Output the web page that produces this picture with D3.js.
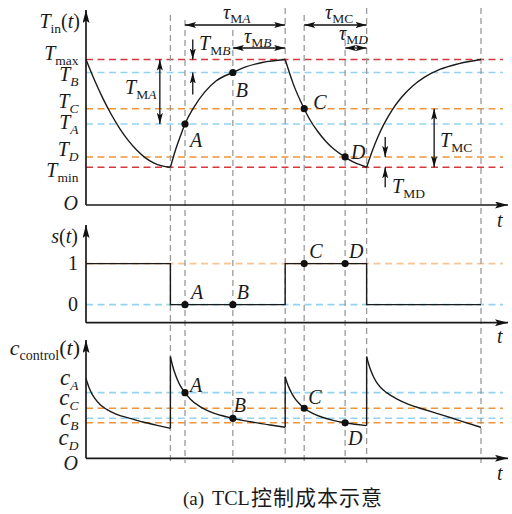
<!DOCTYPE html>
<html>
<head>
<meta charset="UTF-8">
<script src="https://d3js.org/d3.v7.min.js"></script>
<style>
  body { margin: 0; background: #fff; }
  text { font-family: "Liberation Serif", "Times New Roman", serif; fill: #1a1a1a; }
</style>
</head>
<body>
<div id="chart"></div>
<script>
    // ---- data (time in arbitrary units 0..100) ----
    const guideTimes = [20, 23.46, 34.8, 47.2, 51.7, 61.4, 66.5, 93.6];
    const switchTimes = [0, 20, 47.2, 66.5, 93.6];
    const switchState = [1, 0, 1, 0, 0];

    const pointNames = ["A", "B", "C", "D"];
    const pointTimes = [23.46, 34.8, 51.7, 61.4];

    // indoor temperature, normalised: Tmin = 0, Tmax = 1
    const tempNames = ["max", "B", "C", "A", "D", "min"];
    const tempValues = [1, 0.88, 0.544, 0.402, 0.096, 0];
    const pointTemp = [0.402, 0.88, 0.544, 0.096];

    const tempCool1 = [[0, 1], [2, 0.81], [4, 0.64], [6, 0.49], [8, 0.36], [10, 0.25], [12, 0.16], [14, 0.09], [16, 0.042], [18, 0.013], [20, 0]];
    const tempHeat1 = [[20, 0], [21.36, 0.179], [22.72, 0.327], [23.46, 0.402], [25.44, 0.549], [28.16, 0.70], [30.88, 0.803], [34.8, 0.88], [37.68, 0.93], [41.76, 0.973], [47.2, 1]];
    const tempCool2 = [[47.2, 1], [49.13, 0.772], [51.7, 0.544], [52.99, 0.446], [54.92, 0.332], [56.85, 0.24], [58.78, 0.168], [61.4, 0.096], [62.64, 0.065], [64.57, 0.029], [66.5, 0]];
    const tempHeat2 = [[66.5, 0], [67.86, 0.154], [69.21, 0.286], [70.57, 0.398], [72.46, 0.527], [74.63, 0.643], [77.34, 0.753], [80.05, 0.832], [83.84, 0.908], [88.18, 0.96], [93.6, 1]];

    const pointState = [0, 0, 1, 1];

    // control cost
    const costNames = ["A", "C", "B", "D"];
    const costValues = [0.555, 0.423, 0.338, 0.300];
    const pointCost = [0.555, 0.338, 0.423, 0.300];

    const costSeg1 = [[0, 0.676], [0.36, 0.634], [0.71, 0.598], [1.35, 0.549], [2.13, 0.504], [3.32, 0.455], [4.91, 0.413], [7.11, 0.373], [10.43, 0.338], [13.51, 0.307], [16.59, 0.281], [20, 0.254]];
    const costSeg2 = [[20, 0.859], [20.47, 0.789], [20.95, 0.731], [21.66, 0.664], [22.37, 0.612], [23.46, 0.555], [24.74, 0.50], [27.11, 0.435], [30.66, 0.377], [34.8, 0.338], [38.96, 0.309], [43.7, 0.281], [47.2, 0.262]];
    const costSeg3 = [[47.2, 0.690], [47.67, 0.637], [48.15, 0.593], [48.79, 0.547], [49.57, 0.503], [50.52, 0.463], [51.7, 0.423], [53.6, 0.382], [55.97, 0.347], [58.57, 0.32], [61.4, 0.300], [63.79, 0.288], [66.5, 0.276]];
    const costSeg4 = [[66.5, 0.859], [66.97, 0.797], [67.45, 0.746], [68.16, 0.687], [68.87, 0.641], [69.82, 0.598], [71.24, 0.555], [73.61, 0.503], [76.45, 0.456], [79.77, 0.417], [83.09, 0.38], [86.64, 0.341], [90.2, 0.30], [93.6, 0.262]];

    // ---- styles / layout ----
    const RED = "#d8383c", BLUE = "#93d3ef", ORANGE = "#f09538";
    const tempColor = {max: RED, B: BLUE, C: ORANGE, A: BLUE, D: ORANGE, min: RED};
    const costColor = {A: BLUE, C: ORANGE, B: BLUE, D: ORANGE};
    const tempLabelY = [60, 81, 108, 129, 156, 177];
    const costLabelY = [385, 405, 425, 445];
    const guideTop = [15, 20, 30, 8, 15, 30, 8, 8];

    const svg = d3.select("#chart").append("svg")
        .attr("width", 512).attr("height", 514);

    const x = d3.scaleLinear().domain([0, 100]).range([86, 508]);
    const yT = d3.scaleLinear().domain([-0.35, 1.46]).range([205, 10]);
    const yS = d3.scaleLinear().domain([-0.44, 1.94]).range([322.7, 225]);
    const yC = d3.scaleLinear().domain([0, 1]).range([458.3, 340]);
    const xEnd = 98.8;

    const defs = svg.append("defs");
    function marker(id, len, wid) {
        defs.append("marker").attr("id", id)
            .attr("viewBox", `0 0 ${len} ${wid}`)
            .attr("refX", len).attr("refY", wid / 2)
            .attr("markerWidth", len).attr("markerHeight", wid)
            .attr("markerUnits", "userSpaceOnUse")
            .attr("orient", "auto-start-reverse")
            .append("path")
            .attr("d", `M0,0L${len},${wid / 2}L0,${wid}L${len * 0.2},${wid / 2}Z`)
            .attr("fill", "#111");
    }
    marker("head", 11, 6);
    marker("axhead", 13, 7);

    // rich text with italic / subscript parts
    function rich(g, px, py, parts, opt) {
        opt = opt || {};
        const size = opt.size || 20, sub = opt.sub || 13.5, drop = opt.drop || 5;
        const t = g.append("text").attr("x", px).attr("y", py)
            .attr("text-anchor", opt.anchor || "start");
        let cur = 0;
        parts.forEach(p => {
            const isSub = p[1].includes("s");
            const target = isSub ? drop : 0;
            t.append("tspan").attr("dy", target - cur)
                .style("font-size", (isSub ? sub : size) + "px")
                .style("font-style", p[1].includes("i") ? "italic" : "normal")
                .text(p[0]);
            cur = target;
        });
        return t;
    }

    function hline(y, color, opacity) {
        svg.append("line")
            .attr("x1", x(0)).attr("x2", x(xEnd))
            .attr("y1", y).attr("y2", y)
            .attr("stroke", color).attr("stroke-opacity", opacity || 1)
            .attr("stroke-width", 1.6).attr("stroke-dasharray", "7,4.5");
    }

    // ---- horizontal reference lines ----
    tempNames.forEach((n, i) => hline(yT(tempValues[i]), tempColor[n]));
    hline(yS(1), ORANGE, 0.55);
    hline(yS(0), BLUE);
    costNames.forEach((n, i) => hline(yC(costValues[i]), costColor[n]));

    // ---- vertical guides ----
    svg.append("g").selectAll("line")
        .data(guideTimes)
        .join("line")
        .attr("x1", d => x(d)).attr("x2", d => x(d))
        .attr("y1", (d, i) => guideTop[i]).attr("y2", 463)
        .attr("stroke", "#9a9a9a").attr("stroke-width", 1.3)
        .attr("stroke-dasharray", "6,4");

    // ---- curves ----
    const lineT = d3.line().x(d => x(d[0])).y(d => yT(d[1])).curve(d3.curveMonotoneX);
    const lineC = d3.line().x(d => x(d[0])).y(d => yC(d[1])).curve(d3.curveMonotoneX);
    [tempCool1, tempHeat1, tempCool2, tempHeat2].forEach(seg => {
        svg.append("path").attr("d", lineT(seg))
            .attr("fill", "none").attr("stroke", "#1a1a1a").attr("stroke-width", 1.4);
    });
    const costSegs = [costSeg1, costSeg2, costSeg3, costSeg4];
    costSegs.forEach((seg, i) => {
        svg.append("path").attr("d", lineC(seg))
            .attr("fill", "none").attr("stroke", "#1a1a1a").attr("stroke-width", 1.4);
        if (i > 0) {
            const prev = costSegs[i - 1][costSegs[i - 1].length - 1];
            svg.append("line")
                .attr("x1", x(seg[0][0])).attr("x2", x(seg[0][0]))
                .attr("y1", yC(prev[1])).attr("y2", yC(seg[0][1]))
                .attr("stroke", "#1a1a1a").attr("stroke-width", 1.4);
        }
    });

    const stepData = switchTimes.map((t, i) => [t, switchState[i]]);
    svg.append("path")
        .attr("d", d3.line().x(d => x(d[0])).y(d => yS(d[1])).curve(d3.curveStepAfter)(stepData))
        .attr("fill", "none").attr("stroke", "#1a1a1a").attr("stroke-width", 1.4);

    // ---- axes ----
    function axes(yBottom, yTop) {
        svg.append("line").attr("x1", x(0)).attr("x2", x(0))
            .attr("y1", yBottom).attr("y2", yTop)
            .attr("stroke", "#1a1a1a").attr("stroke-width", 1.7)
            .attr("marker-end", "url(#axhead)");
        svg.append("line").attr("x1", x(0)).attr("x2", x(100))
            .attr("y1", yBottom).attr("y2", yBottom)
            .attr("stroke", "#1a1a1a").attr("stroke-width", 1.7)
            .attr("marker-end", "url(#axhead)");
    }
    axes(yT.range()[0], yT.range()[1]);
    axes(yS.range()[0], yS.range()[1]);
    axes(yC.range()[0], yC.range()[1]);

    // ---- points ----
    function dots(ys, vals) {
        svg.append("g").selectAll("circle")
            .data(pointTimes)
            .join("circle")
            .attr("cx", d => x(d))
            .attr("cy", (d, i) => ys(vals[i]))
            .attr("r", 3.6).attr("fill", "#111");
    }
    dots(yT, pointTemp);
    dots(yS, pointState);
    dots(yC, pointCost);

    const lab = svg.append("g");
    // point labels: [dx, dy] from the point
    const tempPtOff = [[5, 23], [3, 25], [9, 0], [6, 2]];
    const statePtOff = [[6, -6], [4, -6], [5, -6], [4, -6]];
    const costPtOff = [[5, -1], [1, -6], [4, -4], [3, 22]];
    pointNames.forEach((n, i) => {
        rich(lab, x(pointTimes[i]) + tempPtOff[i][0], yT(pointTemp[i]) + tempPtOff[i][1], [[n, "i"]]);
        rich(lab, x(pointTimes[i]) + statePtOff[i][0], yS(pointState[i]) + statePtOff[i][1], [[n, "i"]]);
        rich(lab, x(pointTimes[i]) + costPtOff[i][0], yC(pointCost[i]) + costPtOff[i][1], [[n, "i"]]);
    });

    // ---- axis labels ----
    rich(lab, 80, 28, [["T", "i"], ["in", "s"], ["(", ""], ["t", "i"], [")", ""]], {anchor: "end"});
    tempNames.forEach((n, i) => {
        const subStyle = (n === "max" || n === "min") ? "s" : "si";
        rich(lab, 78.5, tempLabelY[i], [["T", "i"], [n, subStyle]], {anchor: "end"});
    });
    rich(lab, 78, 210, [["O", "i"]], {anchor: "end"});

    rich(lab, 78, 243, [["s", "i"], ["(", ""], ["t", "i"], [")", ""]], {anchor: "end"});
    [1, 0].forEach(v => rich(lab, 78, yS(v) + 6.5, [[String(v), ""]], {anchor: "end"}));

    rich(lab, 80, 355, [["c", "i"], ["control", "s"], ["(", ""], ["t", "i"], [")", ""]], {anchor: "end", size: 22, sub: 14});
    costNames.forEach((n, i) => {
        rich(lab, 78.5, costLabelY[i], [["c", "i"], [n, "si"]], {anchor: "end", size: 23, sub: 13.5});
    });
    rich(lab, 78, 470, [["O", "i"]], {anchor: "end"});

    [227, 343, 480].forEach(yy => rich(lab, 497, yy, [["t", "i"]]));

    // ---- annotations ----
    function arrow(x1, y1, x2, y2, both) {
        const l = svg.append("line")
            .attr("x1", x1).attr("y1", y1).attr("x2", x2).attr("y2", y2)
            .attr("stroke", "#111").attr("stroke-width", 1.3)
            .attr("marker-end", "url(#head)");
        if (both) l.attr("marker-start", "url(#head)");
    }
    // time spans
    arrow(x(pointTimes[0]), 25, x(switchTimes[2]), 25, true);
    arrow(x(pointTimes[1]), 48, x(switchTimes[2]), 48, true);
    arrow(x(pointTimes[2]), 25, x(switchTimes[3]), 25, true);
    arrow(x(pointTimes[3]), 48, x(switchTimes[3]), 48, true);
    rich(lab, 223, 19, [["τ", "i"], ["M", "s"], ["A", "si"]], {drop: 4});
    rich(lab, 244, 43, [["τ", "i"], ["M", "s"], ["B", "si"]], {drop: 4});
    rich(lab, 325, 19, [["τ", "i"], ["MC", "s"]], {drop: 4});
    rich(lab, 339, 40, [["τ", "i"], ["M", "s"], ["D", "si"]], {drop: 4});

    // temperature margins
    const xMA = x(17.5), xMB = x(25.3), xMC = x(82.5), xMD = x(70.9);
    arrow(xMA, yT(1), xMA, yT(0.402), true);
    rich(lab, 125, 94, [["T", "i"], ["M", "s"], ["A", "si"]]);
    arrow(xMB, yT(1) - 20, xMB, yT(1));
    arrow(xMB, yT(0.88) + 22, xMB, yT(0.88));
    rich(lab, 199, 50, [["T", "i"], ["M", "s"], ["B", "si"]]);
    arrow(xMC, yT(0.544), xMC, yT(0), true);
    rich(lab, 440, 147, [["T", "i"], ["MC", "s"]]);
    arrow(xMD, yT(0.096) - 20, xMD, yT(0.096));
    arrow(xMD, yT(0) + 20, xMD, yT(0));
    rich(lab, 392, 193, [["T", "i"], ["MD", "s"]]);

    // ---- caption ----
    svg.append("text").attr("x", 183).attr("y", 505).style("font-size", "19px").text("(a)");
    svg.append("text").attr("x", 212).attr("y", 505).style("font-size", "20px").text("TCL");
    svg.append("text").attr("x", 251).attr("y", 505)
        .style("font-family", "'Noto Sans CJK SC', sans-serif")
        .style("font-size", "21px").style("letter-spacing", "1px")
        .text("控制成本示意");
</script>
</body>
</html>
